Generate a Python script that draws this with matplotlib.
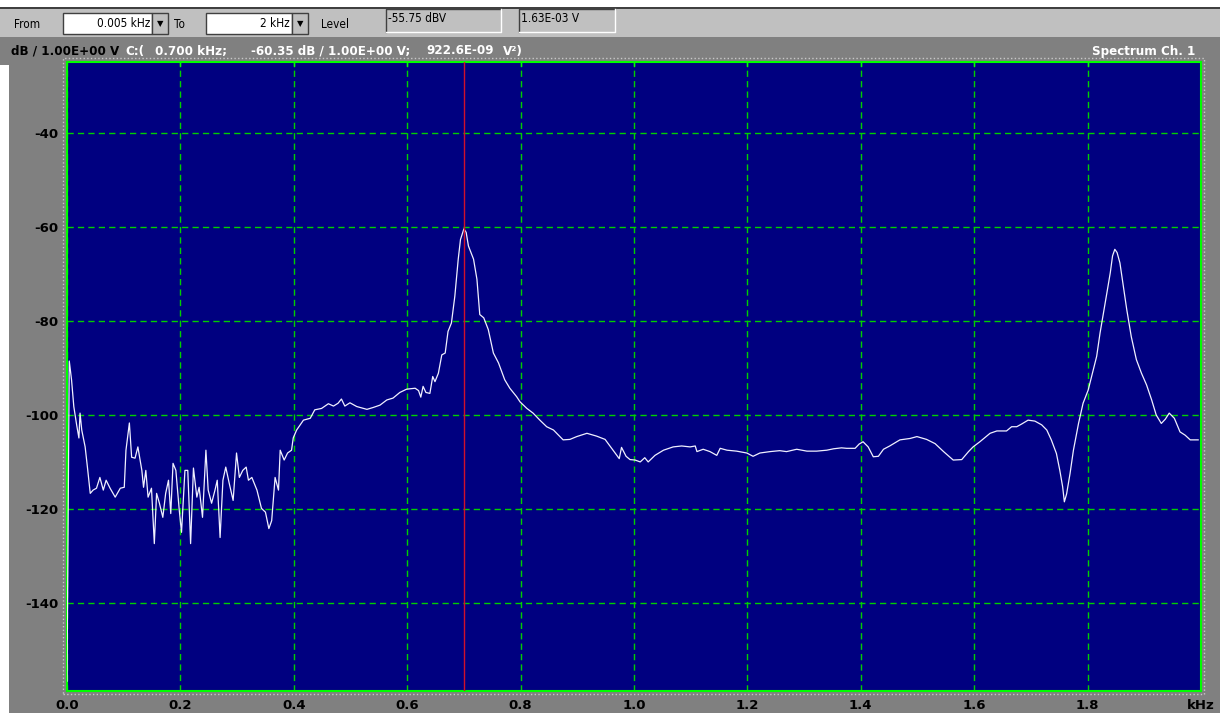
import matplotlib
matplotlib.use("Agg")
import matplotlib.pyplot as plt
from matplotlib.patches import Rectangle

# spectrum trace, channel 1 (kHz, dB re 1 V)
freq_khz = [
    0.000, 0.004, 0.008, 0.012, 0.017, 0.021, 0.023, 0.026, 0.032, 0.036,
    0.041, 0.046, 0.052, 0.058, 0.064, 0.069, 0.076, 0.085, 0.094, 0.101,
    0.104, 0.110, 0.114, 0.120, 0.125, 0.132, 0.135, 0.139, 0.143, 0.149,
    0.154, 0.158, 0.163, 0.169, 0.174, 0.179, 0.183, 0.187, 0.192, 0.198,
    0.202, 0.208, 0.213, 0.218, 0.223, 0.229, 0.233, 0.239, 0.245, 0.249,
    0.255, 0.261, 0.265, 0.270, 0.275, 0.280, 0.286, 0.293, 0.299, 0.304,
    0.310, 0.316, 0.320, 0.326, 0.335, 0.343, 0.350, 0.356, 0.361, 0.367,
    0.373, 0.376, 0.383, 0.389, 0.396, 0.399, 0.405, 0.417, 0.429, 0.437,
    0.449, 0.461, 0.470, 0.478, 0.484, 0.490, 0.499, 0.511, 0.529, 0.540,
    0.552, 0.564, 0.575, 0.587, 0.599, 0.614, 0.620, 0.624, 0.628, 0.633,
    0.640, 0.645, 0.649, 0.655, 0.661, 0.667, 0.672, 0.678, 0.684, 0.690,
    0.694, 0.700, 0.704, 0.708, 0.717, 0.723, 0.728, 0.735, 0.743, 0.752,
    0.761, 0.772, 0.781, 0.793, 0.799, 0.811, 0.822, 0.834, 0.846, 0.858,
    0.875, 0.887, 0.899, 0.917, 0.934, 0.949, 0.963, 0.974, 0.978, 0.986,
    0.993, 1.002, 1.011, 1.019, 1.025, 1.037, 1.052, 1.069, 1.084, 1.099,
    1.108, 1.111, 1.122, 1.134, 1.146, 1.152, 1.164, 1.181, 1.199, 1.210,
    1.222, 1.240, 1.257, 1.269, 1.287, 1.305, 1.322, 1.340, 1.352, 1.366,
    1.375, 1.390, 1.397, 1.404, 1.413, 1.422, 1.431, 1.440, 1.451, 1.469,
    1.487, 1.499, 1.516, 1.531, 1.546, 1.563, 1.578, 1.590, 1.598, 1.610,
    1.628, 1.640, 1.646, 1.657, 1.666, 1.675, 1.684, 1.695, 1.707, 1.719,
    1.728, 1.736, 1.745, 1.751, 1.756, 1.759, 1.763, 1.769, 1.775, 1.784,
    1.792, 1.801, 1.810, 1.816, 1.822, 1.828, 1.834, 1.840, 1.844, 1.848,
    1.852, 1.857, 1.863, 1.869, 1.877, 1.886, 1.895, 1.904, 1.913, 1.921,
    1.930, 1.937, 1.944, 1.953, 1.963, 1.972, 1.981, 1.995,
]
level_db = [
    -156.7, -88.5, -92.5, -98.2, -102.1, -104.9, -99.6, -103.2, -106.8, -111.1,
    -116.7, -116.0, -115.6, -113.3, -116.0, -113.9, -115.6, -117.5, -115.6, -115.4,
    -107.5, -101.7, -109.0, -109.2, -106.8, -111.8, -115.4, -111.8, -117.5, -115.6,
    -127.4, -116.7, -118.8, -121.8, -116.7, -113.9, -121.0, -110.3, -111.8, -120.3,
    -125.0, -111.8, -111.8, -127.4, -111.3, -117.5, -115.4, -121.8, -107.5, -116.0,
    -118.8, -116.0, -113.9, -126.1, -113.9, -111.1, -114.5, -118.2, -108.1, -113.3,
    -111.8, -111.1, -113.9, -113.3, -116.0, -119.9, -120.7, -124.2, -122.5, -113.3,
    -116.0, -107.5, -109.6, -108.1, -107.5, -104.9, -103.2, -101.1, -100.7, -98.9,
    -98.6, -97.6, -98.1, -97.5, -96.6, -98.1, -97.4, -98.2, -98.8, -98.4,
    -97.9, -96.8, -96.4, -95.2, -94.5, -94.3, -94.8, -96.2, -93.9, -95.2,
    -95.4, -91.8, -92.9, -91.1, -87.2, -86.8, -82.2, -80.4, -74.7, -66.8,
    -62.6, -60.35, -61.1, -64.0, -66.8, -71.1, -78.6, -79.3, -81.8, -86.8,
    -88.9, -92.5, -94.3, -96.1, -97.2, -98.6, -99.6, -101.1, -102.5, -103.2,
    -105.3, -105.2, -104.6, -103.9, -104.5, -105.2, -107.5, -109.3, -106.9, -108.8,
    -109.5, -109.6, -110.0, -109.1, -110.0, -108.6, -107.5, -106.8, -106.6, -106.8,
    -106.6, -107.8, -107.3, -107.8, -108.6, -107.1, -107.5, -107.7, -108.1, -108.8,
    -108.1, -107.8, -107.6, -107.8, -107.3, -107.7, -107.7, -107.5, -107.2, -107.0,
    -107.1, -107.1, -106.2, -105.7, -106.8, -108.9, -108.8, -107.3, -106.6, -105.3,
    -105.0, -104.6, -105.2, -106.1, -107.8, -109.6, -109.5, -107.8, -106.8, -105.7,
    -103.9, -103.4, -103.4, -103.4, -102.5, -102.5, -101.9, -101.1, -101.3, -102.1,
    -103.2, -105.3, -108.2, -111.8, -115.3, -118.5, -116.8, -112.5, -107.5, -101.8,
    -97.5, -94.7, -90.4, -87.5, -82.5, -78.3, -74.0, -69.7, -66.1, -64.7,
    -65.4, -67.6, -72.6, -77.5, -83.3, -88.2, -91.1, -93.6, -96.8, -100.0,
    -101.8, -100.9, -99.6, -100.7, -103.6, -104.3, -105.3, -105.3,
]

cursor_khz = 0.700
cursor_db = -60.35

x_ticks = [0.0, 0.2, 0.4, 0.6, 0.8, 1.0, 1.2, 1.4, 1.6, 1.8, 2.0]
x_tick_labels = ["0.0", "0.2", "0.4", "0.6", "0.8", "1.0", "1.2", "1.4", "1.6", "1.8", "kHz"]
y_ticks = [-140, -120, -100, -80, -60, -40]
y_tick_labels = ["-140", "-120", "-100", "-80", "-60", "-40"]

W, H = 1220, 713
GRID_GREEN = "#00d000"
FRAME_GREEN = "#00ff00"
NAVY = "#000080"
PANEL = "#808080"
FACE = "#c0c0c0"


def fx(px):
    return px / W


def fy(py):
    return 1 - py / H


fig = plt.figure(figsize=(W / 100, H / 100), dpi=100, facecolor=PANEL)


def box(x0, y0, x1, y1, **kw):
    r = Rectangle((fx(x0), fy(y1)), fx(x1 - x0), (y1 - y0) / H,
                  transform=fig.transFigure, **kw)
    fig.add_artist(r)
    return r


# window chrome: white top strip, dark rule, toolbar, white left strip
box(0, 0, W, 7, facecolor="white", edgecolor="none")
box(0, 7, W, 9, facecolor="#404040", edgecolor="none")
box(0, 9, W, 37, facecolor=FACE, edgecolor="none")
box(0, 65, 9, H, facecolor="white", edgecolor="none")

tool_font = dict(family="DejaVu Sans", fontstretch="condensed", fontsize=8.5, color="black", va="center")

fig.text(fx(14), fy(24), "From", ha="left", **tool_font)
fig.text(fx(174), fy(24), "To", ha="left", **tool_font)
fig.text(fx(321), fy(24), "Level", ha="left", **tool_font)

# entry boxes with drop-down buttons
for x0, x1, b1, txt in [(63, 152, 168, "0.005 kHz"), (206, 292, 308, "2 kHz")]:
    box(x0, 13, x1, 34, facecolor="white", edgecolor="#404040", lw=1)
    box(x1, 13, b1, 34, facecolor=FACE, edgecolor="#404040", lw=1)
    fig.text(fx(x1 - 2), fy(23.5), txt, ha="right", **tool_font)
    fig.text(fx((x1 + b1) / 2), fy(23.5), "\u25bc", ha="center", va="center",
             fontsize=6, color="black")

# read-out fields
for x0, x1, txt in [(386, 501, "-55.75 dBV"), (519, 615, "1.63E-03 V")]:
    box(x0, 9, x1, 32, facecolor=FACE, edgecolor="none")
    fig.add_artist(plt.Line2D([fx(x0), fx(x0), fx(x1)], [fy(32), fy(9), fy(9)],
                              transform=fig.transFigure, color="#404040", lw=1))
    fig.add_artist(plt.Line2D([fx(x0), fx(x1), fx(x1)], [fy(32), fy(32), fy(9)],
                              transform=fig.transFigure, color="white", lw=1))
    fig.text(fx(x0 + 2), fy(19), txt, ha="left", **tool_font)

# header line above the plot
head_font = dict(family="DejaVu Sans", fontstretch="condensed", fontweight="bold",
                 fontsize=9.5, va="center")
fig.text(fx(119), fy(51), "dB / 1.00E+00 V", ha="right", color="black", **head_font)
fig.text(fx(125), fy(51), "C:(", ha="left", color="white", **head_font)
fig.text(fx(155), fy(51), f"{cursor_khz:.3f} kHz;", ha="left", color="white", **head_font)
fig.text(fx(251), fy(51), f"{cursor_db:.2f} dB / 1.00E+00 V;", ha="left", color="white", **head_font)
fig.text(fx(426), fy(51), "922.6E-09", ha="left", color="white", **head_font)
fig.text(fx(503), fy(51), "V\u00b2)", ha="left", color="white", **head_font)
fig.text(fx(1195), fy(51), "Spectrum Ch. 1", ha="right", color="white", **head_font)

# dotted border round the plot area
box(63, 58, 1204, 694, facecolor="none", edgecolor="#c8c8c8", lw=1, linestyle=":")

ax = fig.add_axes([fx(67), fy(691), fx(1201 - 67), (691 - 62) / H])
ax.set_facecolor(NAVY)

ax.plot(freq_khz, level_db, color="#f0f0ff", lw=0.9, zorder=3)
ax.axvline(cursor_khz, color="#d0102c", lw=1.0, zorder=4)

ax.set_xlim(0, 2.0)
ax.set_ylim(-158.8, -24.8)

ax.set_xticks(x_ticks)
ax.set_xticklabels(x_tick_labels)
ax.set_yticks(y_ticks)
ax.set_yticklabels(y_tick_labels)
ax.tick_params(length=0, pad=6, labelsize=9.5, labelcolor="black")
for lab in ax.get_xticklabels() + ax.get_yticklabels():
    lab.set_fontweight("bold")

ax.grid(True, color=GRID_GREEN, lw=1.0, linestyle=(0, (4.5, 3)), zorder=1)
ax.set_axisbelow(True)

for sp in ax.spines.values():
    sp.set_color(FRAME_GREEN)
    sp.set_linewidth(1.5)

# short tick marks hanging from the top frame
for xt in x_ticks[1:-1]:
    ax.plot([xt, xt], [-24.8, -25.6], color=FRAME_GREEN, lw=1.0, zorder=5, clip_on=False)

fig.savefig("out.png", dpi=100, facecolor=fig.get_facecolor())
